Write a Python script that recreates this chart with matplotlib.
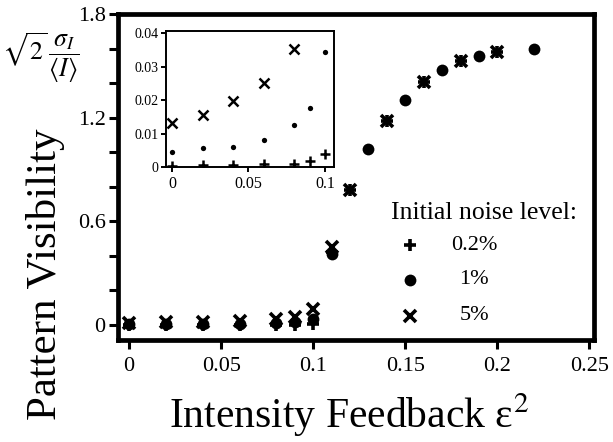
import matplotlib
matplotlib.use('Agg')
import matplotlib.pyplot as plt
from matplotlib.ticker import MultipleLocator
from matplotlib.lines import Line2D

plt.rcParams['font.family'] = ['Liberation Serif', 'DejaVu Serif']
plt.rcParams['mathtext.fontset'] = 'stix'

# ---- data ----
x_p02 = [0, 0.02, 0.04, 0.06, 0.08, 0.09, 0.10, 0.11, 0.12, 0.14, 0.16, 0.18, 0.20]
y_p02 = [0.0003, 0.0005, 0.0006, 0.0008, 0.0010, 0.0018, 0.0038, 0.42, 0.78, 1.18, 1.405, 1.53, 1.58]

x_p1 = [0, 0.02, 0.04, 0.06, 0.08, 0.09, 0.10, 0.11, 0.13, 0.15, 0.17, 0.19, 0.22]
y_p1 = [0.0044, 0.0056, 0.0060, 0.0080, 0.0126, 0.0176, 0.0344, 0.41, 1.016, 1.30, 1.475, 1.555, 1.60]

x_p5 = [0, 0.02, 0.04, 0.06, 0.08, 0.09, 0.10, 0.11, 0.12, 0.14, 0.16, 0.18, 0.20]
y_p5 = [0.0132, 0.0156, 0.0197, 0.0250, 0.0353, 0.046, 0.095, 0.45, 0.78, 1.18, 1.405, 1.53, 1.58]

labels = ['0.2%', '1%', '5%']

xticks = [0, 0.05, 0.10, 0.15, 0.20, 0.25]
xticklabels = ['0', '0.05', '0.1', '0.15', '0.2', '0.25']
yticks = [0, 0.6, 1.2, 1.8]
yticklabels = ['0', '0.6', '1.2', '1.8']

in_xticks = [0, 0.05, 0.10]
in_xticklabels = ['0', '0.05', '0.1']
in_yticks = [0, 0.01, 0.02, 0.03, 0.04]
in_yticklabels = ['0', '0.01', '0.02', '0.03', '0.04']

# ---- figure ----
W, H = 613, 442
fig = plt.figure(figsize=(W / 100, H / 100), dpi=100)
ax = fig.add_axes([117.5 / W, 1 - 339.5 / H, (594 - 117.5) / W, (339.5 - 14) / H])

ax.plot(x_p1, y_p1, 'o', color='black', ms=8.5, mew=0, linestyle='none')
ax.plot(x_p02, y_p02, '+', color='black', ms=9, mew=2.6, linestyle='none')
ax.plot(x_p5, y_p5, 'x', color='black', ms=8, mew=2.6, linestyle='none')

ax.set_xlim(-0.0063, 0.2525)
ax.set_ylim(-0.084, 1.8)
ax.set_xticks(xticks)
ax.set_xticklabels(xticklabels)
ax.set_yticks(yticks)
ax.set_yticklabels(yticklabels)
ax.yaxis.set_minor_locator(MultipleLocator(0.2))
for s in ax.spines.values():
    s.set_linewidth(3.4)
ax.tick_params(axis='both', which='both', direction='out', length=6.5, width=2.2,
               labelsize=16, top=False, right=False)
ax.tick_params(axis='x', pad=6)
ax.tick_params(axis='y', pad=2)

# axis labels
fig.text(349 / W, 1 - 428 / H, 'Intensity Feedback \u03b5$^{2}$', fontsize=30,
         ha='center', va='baseline')
fig.text(46 / W, 1 - 274 / H, 'Pattern Visibility', fontsize=31, rotation=90,
         ha='center', va='center')
fig.text(41 / W, 1 - 58 / H, r'$\sqrt{2}\,\dfrac{\sigma_I}{\langle I\rangle}$', fontsize=18.5,
         ha='center', va='center')

# legend (manual)
fig.text(484 / W, 1 - 213 / H, 'Initial noise level:', fontsize=18.5, ha='center', va='center')
leg_y = [245, 280, 316]
leg_m = [('+', 9, 2.6), ('o', 8.5, 0), ('x', 8, 2.6)]
for yy, (m, ms, mew), lab in zip(leg_y, leg_m, labels):
    fig.add_artist(Line2D([410 / W], [1 - yy / H], marker=m, ms=ms, mew=mew,
                          color='black', linestyle='none', transform=fig.transFigure))
    fig.text(474 / W, 1 - yy / H, lab, fontsize=16, ha='center', va='center')

# ---- inset ----
ins = fig.add_axes([166 / W, 1 - 167 / H, (334 - 166) / W, (167 - 31) / H])
ins.plot(x_p1, y_p1, 'o', color='black', ms=3.8, mew=0, linestyle='none')
ins.plot(x_p02, y_p02, '+', color='black', ms=7.5, mew=1.8, linestyle='none')
ins.plot(x_p5, y_p5, 'x', color='black', ms=6.5, mew=1.8, linestyle='none')
ins.set_xlim(-0.0039, 0.1059)
ins.set_ylim(0, 0.0406)
ins.set_xticks(in_xticks)
ins.set_xticklabels(in_xticklabels)
ins.set_yticks(in_yticks)
ins.set_yticklabels(in_yticklabels)
for s in ins.spines.values():
    s.set_linewidth(1.4)
ins.tick_params(axis='both', direction='out', length=3.5, width=1.4, labelsize=10,
                top=False, right=False, pad=2)
ins.tick_params(axis='x', labelsize=11.5, pad=3)

fig.savefig('out.png', dpi=100)
